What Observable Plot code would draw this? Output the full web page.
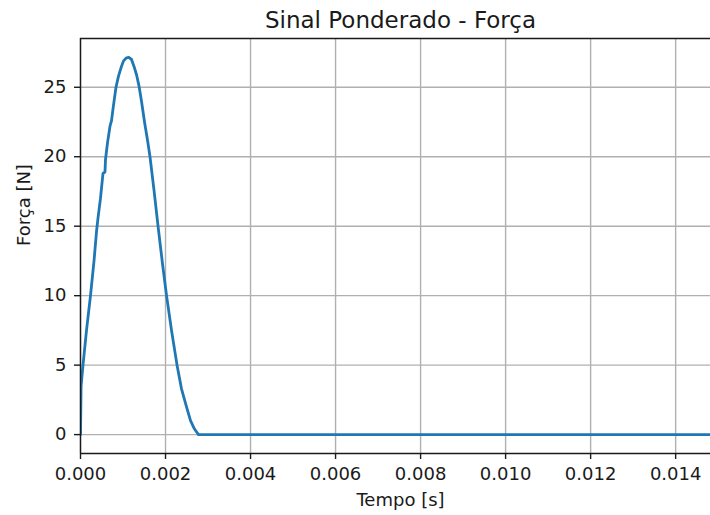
<!DOCTYPE html>
<html>
<head>
<meta charset="utf-8">
<script src="https://cdn.jsdelivr.net/npm/d3@7"></script>
<script src="https://cdn.jsdelivr.net/npm/@observablehq/plot@0.6"></script>
<style>
  html, body { margin: 0; padding: 0; background: #fff; }
</style>
</head>
<body>
<div id="chart"></div>
<script>
// Weighted force signal: time [s] and force [N]
const tempo = [
  0, 0.000014, 0.000059, 0.000141, 0.000235, 0.000318, 0.000376, 0.000412,
  0.00047, 0.000529, 0.000576, 0.000588, 0.000635, 0.000694, 0.00073, 0.000776,
  0.000835, 0.000894, 0.000953, 0.001012, 0.001082, 0.001136, 0.0012, 0.001259,
  0.001318, 0.001376, 0.001435, 0.001506, 0.001576, 0.001635, 0.001729, 0.001824,
  0.001929, 0.002024, 0.002141, 0.002271, 0.002376, 0.002494, 0.002588, 0.002682,
  0.002776, 0.004, 0.006, 0.008, 0.010, 0.012, 0.014, 0.0155
];
const forca = [
  0, 3.5, 5.0, 7.5, 10.0, 12.5, 14.6, 15.6,
  17.0, 18.8, 18.9, 19.8, 21.0, 22.2, 22.6, 23.7,
  25.0, 25.8, 26.4, 26.9, 27.12, 27.15, 27.0, 26.5,
  25.9, 25.1, 24.0, 22.5, 21.2, 20.0, 17.6, 15.0,
  12.3, 10.0, 7.5, 5.0, 3.3, 2.0, 1.0, 0.4,
  0.0, 0, 0, 0, 0, 0, 0, 0
];
const xTicks = [0, 0.002, 0.004, 0.006, 0.008, 0.010, 0.012, 0.014];
const yTicks = [0, 5, 10, 15, 20, 25];
const xDomain = [0, 0.01482];
const yDomain = [-1.36, 28.51];

const titulo = "Sinal Ponderado - Força";
const rotuloX = "Tempo [s]";
const rotuloY = "Força [N]";

const sinal = tempo.map((t, i) => ({t, f: forca[i]}));

const font = "DejaVu Sans, sans-serif";
const grid = "#b0b0b0";
const tickFont = 18;

const chart = Plot.plot({
  width: 710,
  height: 515,
  marginLeft: 80,
  marginRight: 0,
  marginTop: 38,
  marginBottom: 62,
  style: {fontFamily: font, fontSize: "18px", background: "#fff", color: "#1a1a1a", overflow: "visible"},
  x: {domain: xDomain},
  y: {domain: yDomain},
  marks: [
    Plot.gridX(xTicks, {stroke: grid, strokeOpacity: 1, strokeWidth: 1.4}),
    Plot.gridY(yTicks, {stroke: grid, strokeOpacity: 1, strokeWidth: 1.4}),
    Plot.line(sinal, {x: "t", y: "f", stroke: "#1f77b4", strokeWidth: 2.8, clip: true}),
    // spines
    Plot.ruleX([xDomain[0]], {stroke: "#1a1a1a", strokeWidth: 1.4}),
    Plot.ruleY([yDomain[0]], {stroke: "#1a1a1a", strokeWidth: 1.4}),
    Plot.ruleY([yDomain[1]], {stroke: "#1a1a1a", strokeWidth: 1.4}),
    Plot.axisX(xTicks, {
      tickSize: 6, tickPadding: 8, strokeWidth: 1.4, fontSize: tickFont,
      tickFormat: (d) => d.toFixed(3), label: null
    }),
    Plot.axisY(yTicks, {
      tickSize: 6, tickPadding: 8, strokeWidth: 1.4, fontSize: tickFont,
      tickFormat: (d) => String(d), label: null
    }),
    Plot.text([titulo], {frameAnchor: "top", lineAnchor: "middle", dy: -18, dx: 5, fontSize: 23, text: (d) => d}),
    Plot.text([rotuloX], {frameAnchor: "bottom", lineAnchor: "middle", dy: 47, dx: 5, fontSize: tickFont, text: (d) => d}),
    Plot.text([rotuloY], {frameAnchor: "left", dx: -56, rotate: -90, fontSize: tickFont, text: (d) => d})
  ]
});

document.getElementById("chart").appendChild(chart);
</script>
</body>
</html>
